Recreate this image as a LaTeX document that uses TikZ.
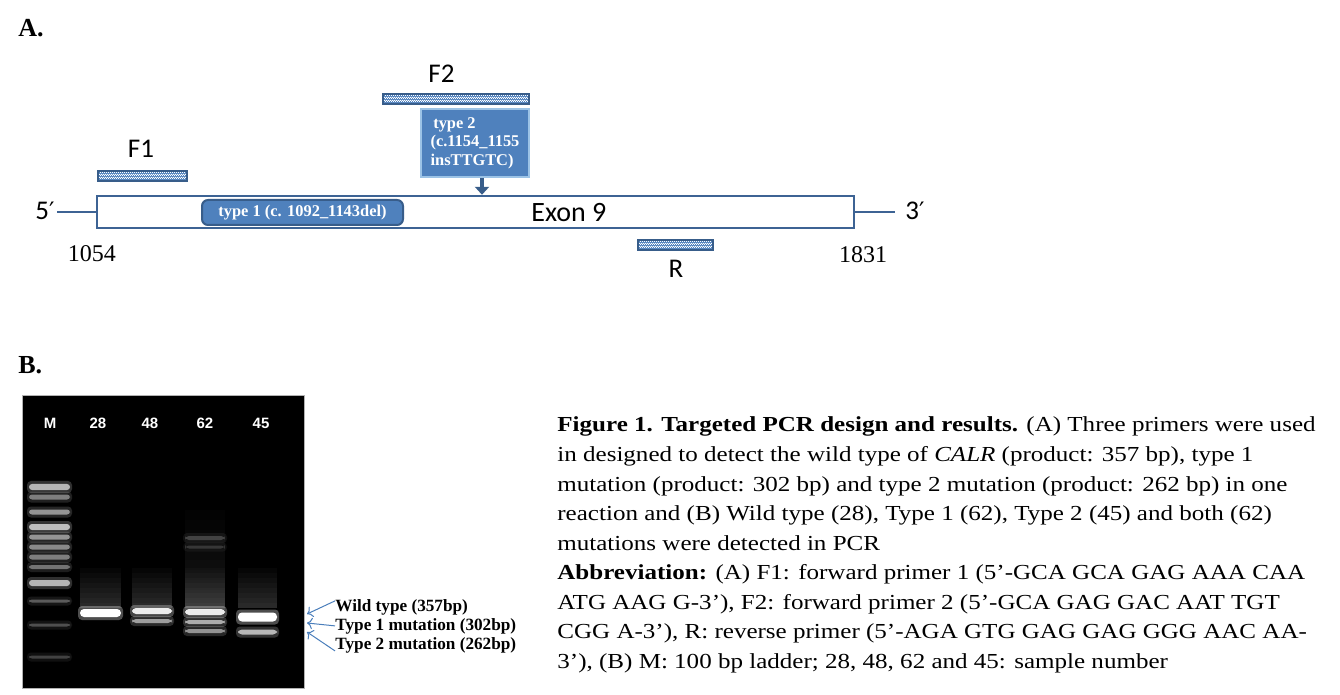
\documentclass[tikz,border=0pt]{standalone}
\usepackage{fontspec}
\setmainfont{Liberation Serif}
\newfontfamily\lblfont{Carlito}
\newfontfamily\primefont{DejaVu Sans}
\newfontfamily\capfont[FakeStretch=1.17]{Liberation Serif}
\newfontfamily\gelfont{Liberation Sans}
\usepackage{tikz}
\usetikzlibrary{arrows,arrows.meta}
\usetikzlibrary{patterns}

\definecolor{exonblue}{HTML}{3D6394}
\definecolor{mutblue}{HTML}{4F81BD}
\definecolor{mutedge}{HTML}{385D8A}
\definecolor{lightedge}{HTML}{9CC3E6}
\definecolor{arrowblue}{HTML}{4A7EBB}

\pgfdeclarepatternformonly{primerchecks}{\pgfqpoint{0pt}{0pt}}{\pgfqpoint{1.2pt}{1.2pt}}{\pgfqpoint{1.2pt}{1.2pt}}{
  \pgfpathrectangle{\pgfqpoint{0pt}{0pt}}{\pgfqpoint{0.6pt}{0.6pt}}
  \pgfpathrectangle{\pgfqpoint{0.6pt}{0.6pt}}{\pgfqpoint{0.6pt}{0.6pt}}
  \pgfusepath{fill}}

\newcommand{\pr}{{\primefont\fontsize{12}{14}\selectfont ′}}

\begin{document}
\begin{tikzpicture}[x=0.5pt, y=-0.5pt,
    lbl/.style={font=\lblfont\fontsize{13.5}{16}\selectfont, inner sep=0pt},
    num/.style={font=\fontsize{12}{14}\selectfont, inner sep=0pt},
    panel/.style={font=\bfseries\fontsize{13}{15}\selectfont, inner sep=0pt},
    primer/.style={draw=mutedge, line width=1pt, preaction={fill=mutblue}, pattern=primerchecks, pattern color=white, minimum height=5pt, inner sep=0pt},
    mut/.style={fill=mutblue, text=white, font=\bfseries\fontsize{8.2}{9.3}\selectfont, inner sep=0pt},
    lane/.style={text=white, font=\gelfont\bfseries\fontsize{7.5}{9}\selectfont, inner sep=0pt},
    gellbl/.style={font=\bfseries\fontsize{8.6}{10}\selectfont, inner sep=0pt, anchor=base west},
    captext/.style={font=\capfont\fontsize{10.7}{14.75}\selectfont, inner sep=0pt, anchor=base west},
    gelarrow/.style={arrowblue, line width=0.5pt, ->}]

    \path[use as bounding box] (0,0) rectangle (1340,695);

    % A. gene sketch
    \node[panel, anchor=base west] (pa) at (18,37) {A.};

    \node[draw=exonblue, line width=1.2pt, fill=white, minimum width=378.5pt, minimum height=16pt, inner sep=0pt] (exon) at (475.5,212) {};
    \node[lbl, font=\lblfont\fontsize{14}{16}\selectfont, anchor=base west] (exonlbl) at (531,222) {Exon 9};
    \node[mut, draw=mutedge, line width=1pt, rounded corners=3pt, minimum width=100.5pt, minimum height=12.5pt] (type1) at (302.5,212.5) {type 1 (c. 1092\_1143del)};
    \node[mut, draw=lightedge, line width=0.8pt, minimum width=54pt, minimum height=34pt, align=left] (type2) at (475,143) {\,type 2\\(c.1154\_1155\\insTTGTC)};
    \draw[mutedge, line width=2.2pt, -{Triangle[width=7pt,length=4pt]}] ([xshift=3.5pt]type2.south) -- ([xshift=3.5pt]type2.south |- exon.north);

    \node[lbl, anchor=base east] (five) at (55,220) {5\pr};
    \node[lbl, anchor=base west] (three) at (905,220) {3\pr};
    \coordinate (fiveend) at (57,212);
    \coordinate (threeend) at (895,212);
    \draw[exonblue, line width=0.8pt] (fiveend) -- (exon.west);
    \draw[exonblue, line width=0.8pt] (exon.east) -- (threeend);

    \node[num, anchor=base] (start) at (92,262) {1054};
    \node[num, anchor=base] (stop) at (863,263) {1831};

    \node[primer, minimum width=44.5pt] (f1bar) at (142.5,176) {};
    \node[lbl, anchor=base] (f1) at (141,158) {F1};
    \node[primer, minimum width=73pt] (f2bar) at (456,99.5) {};
    \node[lbl, anchor=base] (f2) at (441.5,83) {F2};
    \node[primer, minimum width=37.5pt] (rbar) at (675.5,245) {};
    \node[lbl, anchor=base] (r) at (676,278) {R};

    % B. gel
    \node[panel, anchor=base west] (pb) at (18,374) {B.};
    \fill[black] (22,395) rectangle (304,688);
    \draw[gray!60, line width=0.3pt] (22,395) rectangle (304,688);

    \foreach \x/\t in {50/M, 98/28, 150/48, 205/62, 261/45}
        \node[lane] (lane\t) at (\x,423) {\t};

    % ladder
    \foreach \y/\h/\o in {487/6/.75, 497/5/.5, 512/5/.6, 527/6/.8, 537/5/.6, 547/5/.55, 557/5/.5, 567/4/.45, 583/6/.75, 601/3/.35, 625/3/.3, 657/3/.25}
    {
        \fill[white, opacity=\o*0.25, rounded corners=2pt] (27,\y-\h/2-3) rectangle (72,\y+\h/2+3);
        \fill[white, opacity=\o*0.85, rounded corners=1.5pt] (29,\y-\h/2) rectangle (70,\y+\h/2);
    }

    % smear above the bands
    \foreach \xa/\xb in {80/121, 132/172, 185/225, 238/277}
        \foreach \k in {1,...,8}
            \fill[white, opacity=.022] (\xa,608-5*\k) rectangle (\xb,608);
    \foreach \k in {1,...,10}
        \fill[white, opacity=.01] (185,610-10*\k) rectangle (225,610);

    % sample bands
    \foreach \xa/\xb/\y/\h/\o in {80/121/613/8/1, 132/172/611/6/.9, 132/172/621/4/.55, 185/225/612/6/.9, 185/225/622/4/.6, 185/225/631/4/.5, 185/225/538/4/.2, 185/225/547/3/.15, 238/277/617/9/1, 238/277/632/5/.65}
    {
        \fill[white, opacity=\o*0.3, rounded corners=2pt] (\xa-2,\y-\h/2-3) rectangle (\xb+2,\y+\h/2+3);
        \fill[white, opacity=\o, rounded corners=2pt] (\xa,\y-\h/2) rectangle (\xb,\y+\h/2);
    }

    \node[gellbl] (wt) at (335,611) {Wild type (357bp)};
    \node[gellbl] (mt1) at (335,630) {Type 1 mutation (302bp)};
    \node[gellbl] (mt2) at (335,649) {Type 2 mutation (262bp)};
    \coordinate (tipwt) at (307,614);
    \coordinate (tipmt1) at (307,623);
    \coordinate (tipmt2) at (307,632);
    \draw[gelarrow] ([yshift=3pt]wt.west) -- (tipwt);
    \draw[gelarrow] (mt1.west) -- (tipmt1);
    \draw[gelarrow] ([yshift=-3pt]mt2.west) -- (tipmt2);

    % caption
    \foreach \ln [count=\i] in {
        {\textbf{Figure 1. Targeted PCR design and results.} (A) Three primers were used},
        {in designed to detect the wild type of \textit{CALR} (product: 357 bp), type 1},
        {mutation (product: 302 bp) and type 2 mutation (product: 262 bp) in one},
        {reaction and (B) Wild type (28), Type 1 (62), Type 2 (45) and both (62)},
        {mutations were detected in PCR},
        {\textbf{Abbreviation:} (A) F1: forward primer 1 (5’-GCA GCA GAG AAA CAA},
        {ATG AAG G-3’), F2: forward primer 2 (5’-GCA GAG GAC AAT TGT},
        {CGG A-3’), R: reverse primer (5’-AGA GTG GAG GAG GGG AAC AA-},
        {3’), (B) M: 100 bp ladder; 28, 48, 62 and 45: sample number}}
        \node[captext] (cap\i) at (557,{432+(\i-1)*29.5}) {\ln};
\end{tikzpicture}
\end{document}
